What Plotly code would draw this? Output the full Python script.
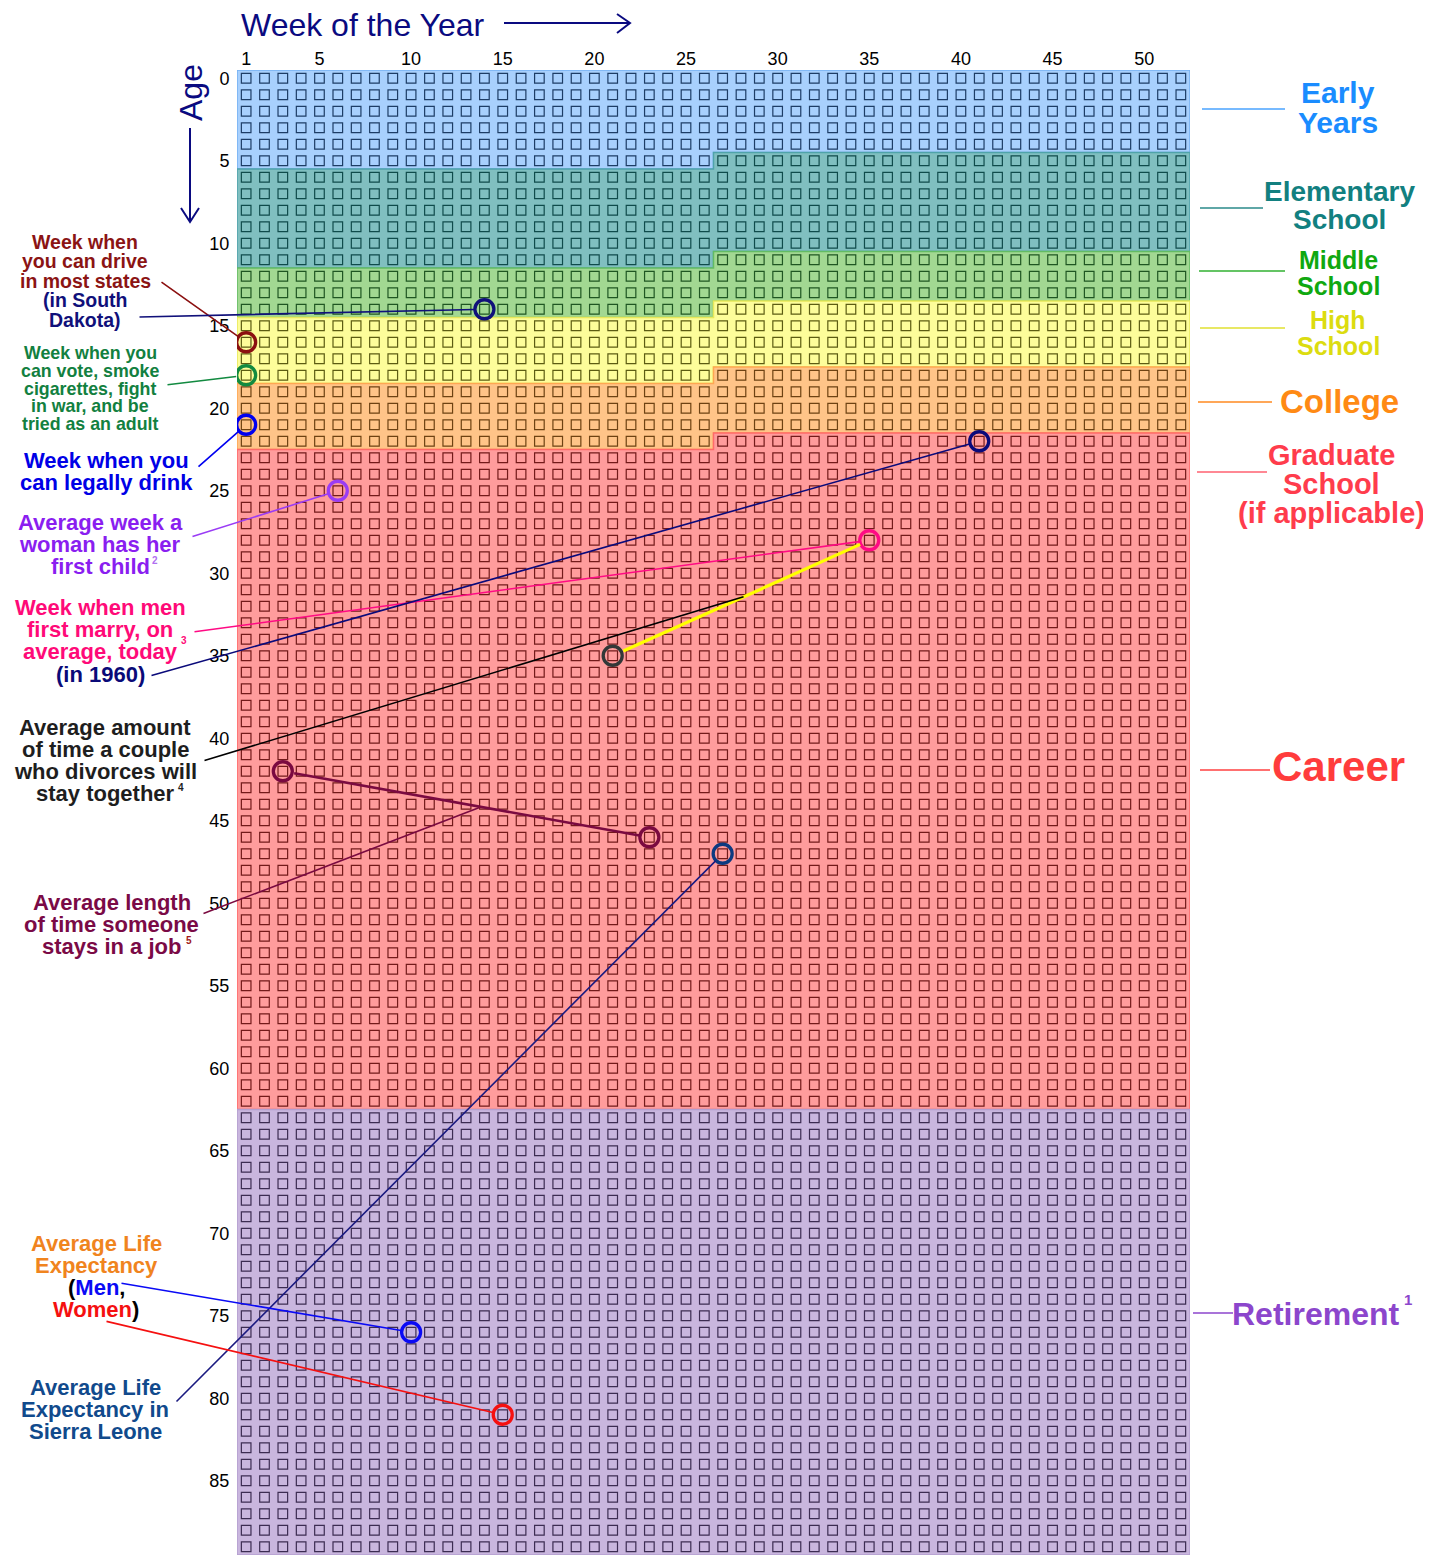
import plotly.graph_objects as go

FONT = "Liberation Sans, Arial, Helvetica, sans-serif"

# ---------------- data ----------------
weeks = list(range(1, 53))
ages = list(range(0, 90))
week_ticks = [1, 5, 10, 15, 20, 25, 30, 35, 40, 45, 50]
age_ticks = list(range(0, 90, 5))

stage_names = ["Early Years", "Elementary School", "Middle School", "High School",
               "College", "Graduate School / Career", "Retirement"]
stage_start_age = [0, 5, 11, 14, 18, 22, 63]
stage_start_week = [1, 27, 27, 27, 27, 27, 1]
life_end_age = 90

stage_fill = ["#a8d0fd", "#80bfc0", "#a2d892", "#fdfd9a", "#ffc488", "#ff9c9c", "#c9b6de"]
stage_edge = ["#74b0f2", "#4fa3aa", "#63bb63", "#e8e85a", "#ffa652", "#ff6a6a", "#b49fd0"]
stage_box = ["#1d3d66", "#0f4b4b", "#1f5622", "#5c5c12", "#6e4212", "#731a1a", "#3c2c52"]

event_keys = ["drive", "drive_sd", "vote", "drink", "first_child", "marry_today",
              "marry_1960", "divorce", "job_start", "job_end", "le_sierra_leone",
              "le_men", "le_women"]
event_week = [1, 14, 1, 1, 6, 35, 41, 21, 3, 23, 27, 10, 15]
event_age = [16, 14, 18, 21, 25, 28, 22, 35, 42, 46, 47, 76, 81]
event_color = ["#8b1010", "#10107a", "#128a40", "#0000f0", "#9a3cf5", "#ff0a84",
               "#0a0a7a", "#333838", "#7a0a40", "#7a0a40", "#0c3a80", "#0a0af5", "#f51010"]

# ---------------- geometry ----------------
# page pixel coordinates of the plot area; the figure itself sits 8px in from
# the page corner (default body margin), so the figure is 8px smaller.
OFF = 8
W_PX, H_PX = 1431 - OFF, 1562 - OFF
L, T, R, B = 237, 70, 1190, 1555
PW, PH = R - L, B - T


def px(x):
    return (x - L) / PW


def py(y):
    return (B - y) / PH


def wk(x):  # page pixel -> week coordinate (for leader tails)
    return 0.5 + (x - L) * 52 / PW


def ag(y):  # page pixel -> age coordinate
    return -0.5 + (y - T) * 90 / PH


fig = go.Figure()

# ---------------- grid of weeks ----------------
starts = [a * 52 + (w - 1) for a, w in zip(stage_start_age, stage_start_week)]
gx, gy, gc = [], [], []
for a in ages:
    for w in weeks:
        idx = a * 52 + (w - 1)
        s = max(i for i, st in enumerate(starts) if st <= idx)
        gx.append(w)
        gy.append(a)
        gc.append(stage_box[s])

fig.add_trace(go.Scatter(
    x=gx, y=gy, mode="markers", hoverinfo="skip", showlegend=False,
    marker=dict(symbol="square-open", size=9.6, color=gc, line=dict(width=1.2)),
))

# ---------------- stage background regions ----------------
def top_edge(a, w):
    if w == 1:
        return [(0.5, a - 0.5), (52.5, a - 0.5)]
    return [(0.5, a + 0.5), (w - 0.5, a + 0.5), (w - 0.5, a - 0.5), (52.5, a - 0.5)]


shapes = []
for i in range(len(stage_names)):
    a0, w0 = stage_start_age[i], stage_start_week[i]
    if i + 1 < len(stage_names):
        a1, w1 = stage_start_age[i + 1], stage_start_week[i + 1]
    else:
        a1, w1 = life_end_age, 1
    pts = top_edge(a0, w0) + list(reversed(top_edge(a1, w1)))
    path = "M " + " L ".join(f"{x},{y}" for x, y in pts) + " Z"
    shapes.append(dict(type="path", xref="x", yref="y", path=path, layer="below",
                       fillcolor=stage_fill[i], line=dict(color=stage_edge[i], width=1.5)))

# ---------------- event circles ----------------
fig.add_trace(go.Scatter(
    x=event_week, y=event_age, mode="markers", hoverinfo="skip", showlegend=False,
    marker=dict(symbol="circle-open", size=19, color=event_color, line=dict(width=3.3)),
))

ev = {k: (w, a) for k, w, a in zip(event_keys, event_week, event_age)}

annotations = []


def connector(k_from, k_to, color, width):
    (w0, a0), (w1, a1) = ev[k_from], ev[k_to]
    annotations.append(dict(x=w1, y=a1, ax=w0, ay=a0, xref="x", yref="y", axref="x", ayref="y",
                            text="", showarrow=True, arrowhead=0, arrowwidth=width,
                            arrowcolor=color, standoff=10, startstandoff=10))


connector("divorce", "marry_today", "#ffff00", 3.2)
connector("job_start", "job_end", "#7a0a40", 2.6)


def leader(head, tail_px, color, width=1.6, standoff=10):
    hx, hy = head
    annotations.append(dict(x=hx, y=hy, ax=wk(tail_px[0]), ay=ag(tail_px[1]),
                            xref="x", yref="y", axref="x", ayref="y",
                            text="", showarrow=True, arrowhead=0, arrowwidth=width,
                            arrowcolor=color, standoff=standoff))


def along(k0, k1, t):
    (w0, a0), (w1, a1) = ev[k0], ev[k1]
    return (w0 + t * (w1 - w0), a0 + t * (a1 - a0))


leader(ev["drive"], (160, 281), "#8b1010")
leader(ev["drive_sd"], (138, 317), "#10107a")
leader(ev["vote"], (166, 385), "#128a40")
leader(ev["drink"], (197, 468), "#0000f0")
leader(ev["first_child"], (191, 537), "#9a3cf5")
leader(ev["marry_today"], (193, 632), "#ff0a84")
leader(ev["marry_1960"], (150, 676), "#0a0a7a")
leader(along("marry_today", "divorce", 0.49), (203, 761), "#000000", 1.6, 0)
leader(along("job_start", "job_end", 0.54), (202, 914), "#7a0a40", 1.6, 0)
leader(ev["le_sierra_leone"], (175, 1403), "#1a1a80")
leader(ev["le_men"], (120, 1283), "#0a0af5")
leader(ev["le_women"], (105, 1321), "#f51010")


# ---------------- text labels ----------------
def label(lines, cx, y0, dy, color, size, weight="bold", xanchor="center"):
    for i, t in enumerate(lines):
        annotations.append(dict(xref="paper", yref="paper", x=px(cx), y=py(y0 + i * dy),
                                text=t, showarrow=False, xanchor=xanchor, yanchor="middle",
                                font=dict(family=FONT, size=size, color=color, weight=weight)))


label(["Week when", "you can drive", "in most states"], 85, 242, 19.5, "#8b1414", 19.5)
label(["(in South", "Dakota)"], 85, 300, 19.5, "#10107a", 19.5)
label(["Week when you", "can vote, smoke", "cigarettes, fight", "in war, and be",
       "tried as an adult"], 90, 353, 17.8, "#128040", 17.8)
label(["Week when you", "can legally drink"], 106, 461, 22, "#0000e6", 22)
label(["Average week a", "woman has her", "first child"], 100, 522, 22, "#8a1ef0", 22)
label(["2"], 155, 560, 0, "#b070f0", 10)
label(["Week when men", "first marry, on", "average, today"], 100, 607, 22, "#ff0a78", 22)
label(["3"], 184, 640, 0, "#ff0a78", 10)
label(["(in 1960)"], 100, 674.5, 22, "#0a0a78", 22)
label(["Average amount", "of time a couple", "who divorces will",
       "stay together"], 105, 727, 22, "#1e1e1e", 22)
label(["4"], 181, 787, 0, "#1e1e1e", 10)
label(["Average length", "of time someone", "stays in a job"], 112, 902, 22,
      "#7a0a46", 22)
label(["5"], 189, 941, 0, "#a01818", 10)
label(["Average Life", "Expectancy",
       "<span style='color:#000000'>(</span><span style='color:#0a0af5'>Men</span>"
       "<span style='color:#000000'>,</span>",
       "<span style='color:#f51010'>Women</span><span style='color:#000000'>)</span>"],
      96, 1243, 22, "#f0841e", 22)
label(["Average Life", "Expectancy in", "Sierra Leone"], 95, 1387, 22, "#114a8c", 22)

# right-hand stage labels
label(["Early", "Years"], 1338, 92, 31, "#1a8cff", 30)
label(["Elementary", "School"], 1339, 191, 28, "#128080", 28)
label(["Middle", "School"], 1338, 259.5, 26.5, "#10a810", 25)
label(["High", "School"], 1338, 320, 26, "#dcdc10", 25)
label(["College"], 1339, 402, 0, "#ff8a14", 33)
label(["Graduate", "School", "(if applicable)"], 1331, 455, 29, "#ff3c4c", 29)
label(["Career"], 1338, 767, 0, "#ff3c3c", 42)
label(["Retirement"], 1316, 1314, 0, "#8c46cc", 32)
label(["1"], 1408, 1299, 0, "#8c46cc", 15)

right_lines = [(1202, 1285, 109, "#4aa3ff"), (1200, 1263, 208, "#2a8a8a"),
               (1199, 1285, 271, "#30b030"), (1200, 1285, 328, "#e0e030"),
               (1198, 1272, 402, "#ff8a20"), (1197, 1267, 472, "#ff6070"),
               (1200, 1270, 770, "#ff4040"), (1193, 1233, 1313, "#8c46cc")]
for x0, x1, yy, c in right_lines:
    shapes.append(dict(type="line", xref="paper", yref="paper", x0=px(x0), x1=px(x1),
                       y0=py(yy), y1=py(yy), line=dict(color=c, width=1.5)))

# axis titles with arrows
annotations.append(dict(xref="paper", yref="paper", x=px(240), y=py(25), text="Week of the Year",
                        showarrow=False, xanchor="left", yanchor="middle", borderpad=0,
                        font=dict(family=FONT, size=32, color="#0a0a80")))
annotations.append(dict(xref="paper", yref="paper", x=px(191), y=py(93), text="Age",
                        showarrow=False, xanchor="center", yanchor="middle", textangle=-90,
                        font=dict(family=FONT, size=32, color="#0a0a80")))


def ppath(points):
    return "M " + " L ".join(f"{px(x)},{py(y)}" for x, y in points)


navy_line = dict(color="#0a0a80", width=2)
shapes.append(dict(type="path", xref="paper", yref="paper", path=ppath([(504, 23), (630, 23)]),
                   line=navy_line))
shapes.append(dict(type="path", xref="paper", yref="paper",
                   path=ppath([(617, 14), (630, 23), (617, 33)]), line=navy_line))
shapes.append(dict(type="path", xref="paper", yref="paper", path=ppath([(190, 128), (190, 222)]),
                   line=navy_line))
shapes.append(dict(type="path", xref="paper", yref="paper",
                   path=ppath([(181, 208), (190, 222), (199, 208)]), line=navy_line))

fig.update_layout(
    width=W_PX, height=H_PX,
    margin=dict(l=L - OFF, r=W_PX - (R - OFF), t=T - OFF, b=H_PX - (B - OFF), pad=0),
    paper_bgcolor="white", plot_bgcolor="white",
    showlegend=False, shapes=shapes, annotations=annotations,
    font=dict(family=FONT, color="#000000"),
    xaxis=dict(range=[0.5, 52.5], side="top", tickmode="array", tickvals=week_ticks,
               showgrid=False, zeroline=False, showline=False, ticks="",
               tickfont=dict(family=FONT, size=18, color="#000"),
               fixedrange=True),
    yaxis=dict(range=[89.5, -0.5], tickmode="array", tickvals=age_ticks,
               showgrid=False, zeroline=False, showline=False, ticks="outside", ticklen=3,
               tickcolor="rgba(0,0,0,0)", tickfont=dict(family=FONT, size=18, color="#000"),
               fixedrange=True),
)

fig.write_html("out.html")
